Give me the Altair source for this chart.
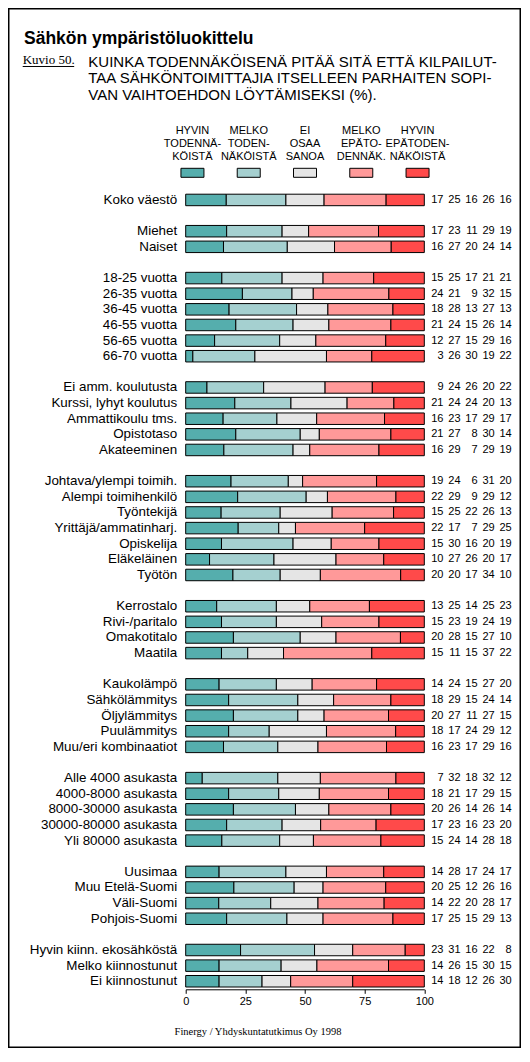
import altair as alt
import pandas as pd

rows = [
    "Koko väestö",
    "Miehet", "Naiset",
    "18-25 vuotta", "26-35 vuotta", "36-45 vuotta", "46-55 vuotta", "56-65 vuotta", "66-70 vuotta",
    "Ei amm. koulutusta", "Kurssi, lyhyt koulutus", "Ammattikoulu tms.", "Opistotaso", "Akateeminen",
    "Johtava/ylempi toimih.", "Alempi toimihenkilö", "Työntekijä", "Yrittäjä/ammatinharj.",
    "Opiskelija", "Eläkeläinen", "Työtön",
    "Kerrostalo", "Rivi-/paritalo", "Omakotitalo", "Maatila",
    "Kaukolämpö", "Sähkölämmitys", "Öljylämmitys", "Puulämmitys", "Muu/eri kombinaatiot",
    "Alle 4000 asukasta", "4000-8000 asukasta", "8000-30000 asukasta", "30000-80000 asukasta",
    "Yli 80000 asukasta",
    "Uusimaa", "Muu Etelä-Suomi", "Väli-Suomi", "Pohjois-Suomi",
    "Hyvin kiinn. ekosähköstä", "Melko kiinnostunut", "Ei kiinnostunut",
]
group_sizes = [1, 2, 6, 5, 7, 4, 5, 5, 4, 3]

hyvin_tod = [17, 17, 16, 15, 24, 18, 21, 12, 3, 9, 21, 16, 21, 16, 19, 22, 15, 22, 15, 10, 20,
             13, 15, 20, 15, 14, 18, 20, 18, 16, 7, 18, 20, 17, 15, 14, 20, 14, 17, 23, 14, 14]
melko_tod = [25, 23, 27, 25, 21, 28, 24, 27, 26, 24, 24, 23, 27, 29, 24, 29, 25, 17, 30, 27, 20,
             25, 23, 28, 11, 24, 29, 27, 17, 23, 32, 21, 26, 23, 24, 28, 25, 22, 25, 31, 26, 18]
ei_osaa = [16, 11, 20, 17, 9, 13, 15, 15, 30, 26, 24, 17, 8, 7, 6, 9, 22, 7, 16, 26, 17,
           14, 19, 15, 15, 15, 15, 11, 24, 17, 18, 17, 14, 16, 14, 17, 12, 20, 15, 16, 15, 12]
melko_epa = [26, 29, 24, 21, 32, 27, 26, 29, 19, 20, 20, 29, 30, 29, 31, 29, 26, 29, 20, 20, 34,
             25, 24, 27, 37, 27, 24, 27, 29, 29, 32, 29, 26, 23, 28, 24, 26, 28, 29, 22, 30, 26]
hyvin_epa = [16, 19, 14, 21, 15, 13, 14, 16, 22, 22, 13, 17, 14, 19, 20, 12, 13, 25, 19, 17, 10,
             23, 19, 10, 22, 20, 14, 15, 12, 16, 12, 15, 14, 20, 18, 17, 16, 17, 13, 8, 15, 30]

answers = ["Hyvin todennäköistä", "Melko todennäköistä", "Ei osaa sanoa",
           "Melko epätodennäköistä", "Hyvin epätodennäköistä"]
legend_labels = ["HYVIN\nTODENNÄ-\nKÖISTÄ", "MELKO\nTODEN-\nNÄKÖISTÄ", "EI\nOSAA\nSANOA",
                 "MELKO\nEPÄTO-\nDENNÄK.", "HYVIN\nEPÄTODEN-\nNÄKÖISTÄ"]
colors = ["#55AEAD", "#A5D0D0", "#E5E5E5", "#FF9999", "#FF4A4A"]

title = "Sähkön ympäristöluokittelu"
figure_no = "Kuvio 50."
question = ("KUINKA TODENNÄKÖISENÄ PITÄÄ SITÄ ETTÄ KILPAILUT-\n"
            "TAA SÄHKÖNTOIMITTAJIA ITSELLEEN PARHAITEN SOPI-\n"
            "VAN VAIHTOEHDON LÖYTÄMISEKSI (%).")
source_note = "Finergy / Yhdyskuntatutkimus Oy 1998"

series = [hyvin_tod, melko_tod, ei_osaa, melko_epa, hyvin_epa]

# band domain with empty slots between the groups
domain = []
start = 0
for g, size in enumerate(group_sizes):
    if g:
        domain.append(f"gap{g}")
    domain += rows[start:start + size]
    start += size

df = pd.DataFrame([
    {"label": r, "answer": answers[k], "k": k, "value": series[k][j]}
    for j, r in enumerate(rows) for k in range(5)
])
legend_df = pd.DataFrame({"answer": answers, "text": legend_labels})

W, H = 238.6, 797.4
FONT = "Liberation Sans"
SERIF = "Liberation Serif"

color = alt.Color("answer:N", scale=alt.Scale(domain=answers, range=colors), legend=None)
y_enc = alt.Y(
    "label:N",
    scale=alt.Scale(domain=domain, paddingInner=0.264, paddingOuter=0.147),
    axis=alt.Axis(title=None, domain=False, ticks=False, labelFontSize=13.4,
                  labelPadding=9, labelLimit=0,
                  labelExpr="indexof(datum.label, 'gap') == 0 ? '' : datum.label"),
)

bars = alt.Chart(df).mark_bar(stroke="black", strokeWidth=1).transform_joinaggregate(
    total="sum(value)", groupby=["label"]
).transform_calculate(
    pct="datum.value / datum.total * 100"
).encode(
    x=alt.X("pct:Q", stack="zero", scale=alt.Scale(domain=[0, 100], nice=False),
            axis=alt.Axis(title=None, values=[0, 25, 50, 75, 100], grid=False,
                          tickSize=4, labelFontSize=11, labelPadding=2, labelFlush=False)),
    y=y_enc,
    color=color,
    order=alt.Order("k:Q"),
)

numbers = [
    alt.Chart(df).transform_filter(alt.datum.k == k).mark_text(
        align="right", baseline="middle", dx=19.2 + 17.05 * k, font=FONT, fontSize=11,
        color="black"
    ).encode(x=alt.datum(100), y=y_enc, text="value:Q")
    for k in range(5)
]


def note(text, x, y, **kw):
    return alt.Chart(pd.DataFrame({"t": [text]})).mark_text(
        baseline="alphabetic", color="black", **kw
    ).encode(x=alt.value(x), y=alt.value(y), text="t:N")


one = pd.DataFrame({"t": [0]})
frame = alt.Chart(one).mark_rect(fill="transparent", stroke="black", strokeWidth=1.5).encode(
    x=alt.value(-176.95), x2=alt.value(334.55), y=alt.value(-183.15), y2=alt.value(855.35)
)
underline = alt.Chart(one).mark_rule(color="black", strokeWidth=1).encode(
    x=alt.value(-163), x2=alt.value(-111.5), y=alt.value(-125.4)
)

main = alt.layer(
    frame,
    note(title, -161.7, -148.4, align="left", font=FONT, fontSize=17.5, fontWeight="bold"),
    note(figure_no, -163, -128.4, align="left", font=SERIF, fontSize=13),
    underline,
    note(question, -97.4, -125.2, align="left", font=FONT, fontSize=15,
         lineBreak="\n", lineHeight=16.7),
    note(source_note, 72.3, 842.6, align="center", font=SERIF, fontSize=10.5),
    bars,
    *numbers,
)

legend_x = alt.X("answer:N", sort=answers, scale=alt.Scale(type="point", padding=0.12), axis=None)
legend_boxes = alt.Chart(legend_df).mark_point(
    shape="M-1,-0.391H1V0.391H-1Z", size=529, filled=True, opacity=1,
    stroke="black", strokeWidth=1
).encode(x=legend_x, y=alt.value(-19.1), color=color)
legend_text = alt.Chart(legend_df).mark_text(
    align="center", baseline="alphabetic", lineBreak="\n", lineHeight=13,
    font=FONT, fontSize=11, color="black"
).encode(x=legend_x, y=alt.value(-57.9), text="text:N")
legend = alt.layer(legend_boxes, legend_text)

chart = alt.layer(main, legend).resolve_scale(x="independent").properties(
    width=W,
    height=H,
    padding={"left": 177.7, "top": 183.9, "right": 96.7, "bottom": 58.7},
    autosize=alt.AutoSizeParams(type="none"),
).configure_view(
    strokeWidth=0
).configure_axis(
    labelFont=FONT, labelColor="black", domainColor="black", tickColor="black"
)

chart.save("out.html", embed_options={"renderer": "svg", "actions": False})
